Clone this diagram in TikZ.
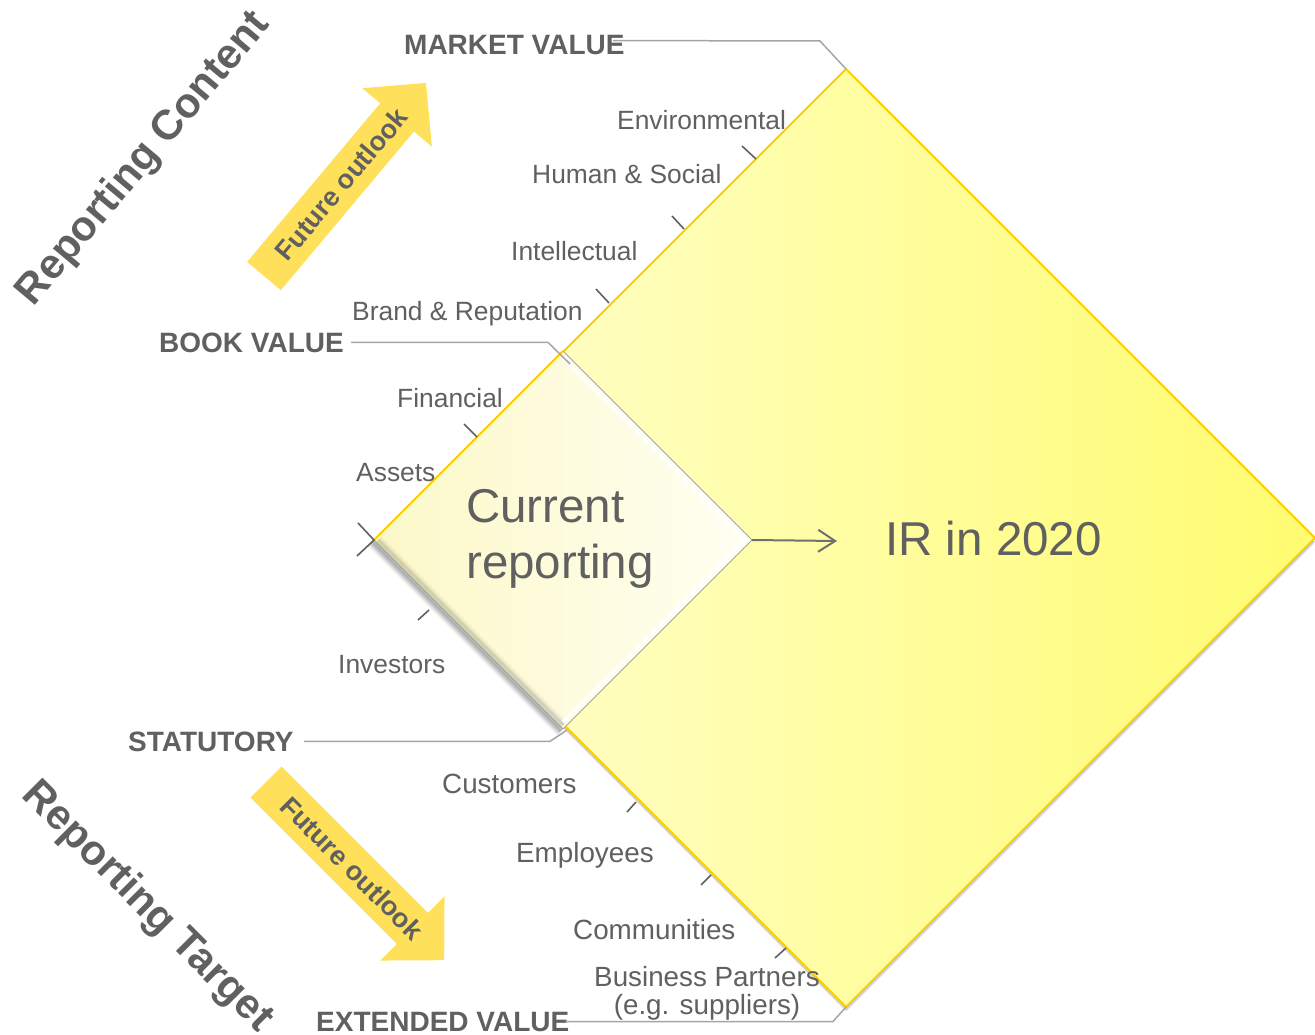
\documentclass[tikz,border=0pt]{standalone}
\usepackage{fontspec}
\setmainfont{Liberation Sans}
\usetikzlibrary{arrows.meta,shadows}
\definecolor{irgray}{RGB}{96,96,96}
\definecolor{irline}{RGB}{165,165,165}
\definecolor{irarrow}{RGB}{112,112,112}
\definecolor{irgold}{RGB}{255,204,0}
\definecolor{irpale}{RGB}{255,255,212}
\definecolor{irdeep}{RGB}{255,252,112}
\definecolor{iramber}{RGB}{255,224,90}
\definecolor{ircream}{RGB}{252,248,200}
\definecolor{irwhite}{RGB}{255,255,242}

\begin{document}
\begin{tikzpicture}[x=1pt, y=-1pt, >=Stealth,
  caplabel/.style={text=irgray, font=\fontsize{26.4}{30}\selectfont, inner sep=0pt, anchor=base west},
  stakelabel/.style={caplabel, font=\fontsize{27.8}{30}\selectfont},
  valuelabel/.style={text=irgray, font=\fontsize{28}{30}\selectfont\bfseries, inner sep=0pt, anchor=base west},
  leader/.style={irline, line width=1.5pt},
  edgetick/.style={irgray, line width=1.6pt},
  sidetitle/.style={text=irgray, font=\fontsize{42}{46}\selectfont\bfseries, inner sep=0pt},
  outlook/.style={text=irgray, font=\fontsize{27}{30}\selectfont\bfseries, inner sep=0pt},
  bigtext/.style={text=irgray, font=\fontsize{47.5}{56}\selectfont, inner sep=0pt, anchor=base west},
  flow/.style={irarrow, line width=2pt, -{Straight Barb[length=17pt,width=22pt]}}]
  \useasboundingbox (0,0) rectangle (1315,1035);

  % corners of the two diamonds
  \coordinate (bigtop) at (846,69);
  \coordinate (bigright) at (1315,538);
  \coordinate (bigbot) at (846,1007);
  \coordinate (bigleft) at (377,538);
  \coordinate (smtop) at (563,351);
  \coordinate (smright) at (752,540);
  \coordinate (smbot) at (563,729);
  \coordinate (smleft) at (374,540);

  % future outlook arrows
  \begin{scope}[shift={(264,276)}, rotate=50]
    \fill[iramber] (0,-22) -- (207,-22) -- (207,-45.5) -- (252,0) -- (207,45.5) -- (207,22) -- (0,22) -- cycle;
    \node[outlook, rotate=50] (upout) at (120,0) {Future outlook};
  \end{scope}
  \begin{scope}[shift={(266,782)}, rotate=-45]
    \fill[iramber] (0,-22) -- (207,-22) -- (207,-45.5) -- (252,0) -- (207,45.5) -- (207,22) -- (0,22) -- cycle;
    \node[outlook, rotate=-45] (downout) at (122,0) {Future outlook};
  \end{scope}

  % side titles
  \node[sidetitle, rotate=50] (content) at (144,159) {Reporting Content};
  \node[sidetitle, rotate=-45] (target) at (147,907) {Reporting Target};

  % IR in 2020
  \path[drop shadow={shadow xshift=0pt, shadow yshift=-4pt, opacity=.3, fill=black!60},
        left color=irpale, right color=irdeep]
    (bigtop) -- (bigright) -- (bigbot) -- (bigleft) -- cycle;
  \draw[irgold, line width=2pt, line join=round] (bigtop) -- (bigright) -- (bigbot) -- (bigleft) -- cycle;

  % current reporting, with a soft bevel
  \foreach \w/\o in {12/.05, 9/.07, 6/.09, 3/.12}
    \draw[black, line width=\w pt, opacity=\o] ([xshift=-2pt,yshift=-2pt]smleft) -- ([xshift=-2pt,yshift=-2pt]smbot);
  \path[left color=ircream, right color=irwhite]
    (smleft) -- (smtop) -- (smright) -- (smbot) -- cycle;
  \foreach \w/\o in {10/.04, 6/.06, 3/.08}
    \draw[black, line width=\w pt, opacity=\o] ([xshift=4pt]smleft) -- ([yshift=4pt]smbot);
  \draw[black!40, line width=1pt] (smleft) -- (smbot);
  \draw[white, line width=4pt, opacity=.9] ([yshift=-7pt]smtop) -- ([xshift=-7pt]smright) -- ([yshift=7pt]smbot);
  \draw[irline, line width=1pt] (smtop) -- (smright) -- (smbot);
  \draw[irgold, line width=2pt] (smleft) -- (smtop);

  \node[bigtext] (cur) at (466,522) {Current};
  \node[bigtext] (rep) at (466,578) {reporting};
  \node[bigtext] (ir) at (885,555) {IR in 2020};
  \coordinate (flowend) at (837,541);
  \draw[flow] (smright) -- (flowend);

  % value levels
  \node[valuelabel] (mv) at (404,55) {MARKET VALUE};
  \node[valuelabel] (bv) at (159,352) {BOOK VALUE};
  \node[valuelabel] (st) at (128,751) {STATUTORY};
  \node[valuelabel] (ev) at (316,1031) {EXTENDED VALUE};
  \coordinate (mvbend) at (820,41);
  \coordinate (bvbend) at (548,342);
  \coordinate (bvend) at (570,364);
  \coordinate (stbend) at (550,742);
  \coordinate (stend) at (567,730);
  \coordinate (evbend) at (833,1022);
  \draw[leader] ([xshift=-12pt,yshift=-5pt]mv.north east) -- (mvbend) -- (bigtop);
  \draw[leader] ([xshift=7pt]bv.east) -- (bv.east -| bvbend) -- (bvend);
  \draw[leader] ([xshift=10pt]st.east) -- (st.east -| stbend) -- (stend);
  \draw[leader] ([xshift=-4pt]ev.east) -- (ev.east -| evbend) -- (bigbot);

  % capitals and stakeholders
  \node[caplabel] (env) at (617,130) {Environmental};
  \node[caplabel] (hum) at (532,184) {Human \& Social};
  \node[caplabel] (int) at (511,261) {Intellectual};
  \node[caplabel] (brand) at (352,320) {Brand \& Reputation};
  \node[caplabel] (fin) at (397,407) {Financial};
  \node[caplabel] (ast) at (356,481) {Assets};
  \node[caplabel] (inv) at (338,673) {Investors};
  \node[stakelabel] (cust) at (442,793) {Customers};
  \node[stakelabel] (empl) at (516,862) {Employees};
  \node[stakelabel] (comm) at (573,939) {Communities};
  \node[stakelabel, anchor=base] (bp) at (707,986) {Business Partners};
  \node[stakelabel, anchor=base] (bpeg) at (707,1014) {(e.g. suppliers)};

  % ticks on the diamond edges
  \foreach \xa/\ya/\xb/\yb in {742/146/756/159, 672/216/684/229, 596/289/609/303, 464/424/477/437,
      418/620/429/610, 627/812/636/802, 701/885/711/875, 775/958/786/948}
    \draw[edgetick] (\xa,\ya) -- (\xb,\yb);
  \draw[edgetick] (358,523) -- (smleft) -- (357,556);
\end{tikzpicture}
\end{document}
